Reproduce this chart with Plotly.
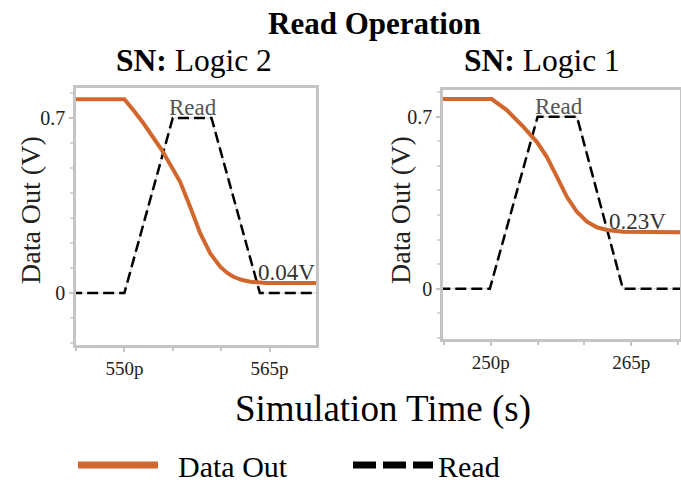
import plotly.graph_objects as go

# ---------------- data ----------------
# Left panel (SN: Logic 2)
t_out_l = [544.5, 550.0, 551.0, 551.97, 553.87, 555.0, 555.76, 556.79, 557.83, 558.86, 559.9, 560.6, 561.27, 562.1, 563.0, 564.7, 570.5]
v_out_l = [0.775, 0.775, 0.728, 0.679, 0.572, 0.500, 0.445, 0.345, 0.239, 0.159, 0.105, 0.081, 0.065, 0.053, 0.045, 0.040, 0.040]
t_read_l = [544.5, 550.0, 555.0, 559.0, 564.0, 570.5]
v_read_l = [0.0, 0.0, 0.7, 0.7, 0.0, 0.0]

# Right panel (SN: Logic 1)
t_out_r = [244.5, 250.1, 251.71, 253.48, 254.91, 255.98, 257.05, 258.12, 259.19, 260.26, 261.32, 262.39, 264.17, 270.5]
v_out_r = [0.772, 0.772, 0.727, 0.659, 0.598, 0.537, 0.456, 0.374, 0.313, 0.273, 0.250, 0.239, 0.232, 0.230]
t_read_r = [244.5, 249.9, 255.0, 259.2, 264.1, 270.5]
v_read_r = [0.0, 0.0, 0.7, 0.7, 0.0, 0.0]

x_ticks_l = [550, 565]
x_ticklabels_l = ["550p", "565p"]
x_ticks_r = [250, 265]
x_ticklabels_r = ["250p", "265p"]
y_ticks = [0, 0.7]
y_ticklabels = ["0", "0.7"]

final_l = "0.04V"
final_r = "0.23V"

# ---------------- style ----------------
W, H = 681, 485
ORANGE = "#D2672D"
FONT = "Liberation Serif"
BOX = "#c4c4c4"

def px_x(p):
    return p / W

def px_y(p):
    return 1 - p / H

fig = go.Figure()

def add_panel(tx, vo, trd, vr, xa, ya):
    fig.add_trace(go.Scatter(x=trd, y=vr, mode="lines", xaxis=xa, yaxis=ya,
                             line=dict(color="#d0d0d0", width=1), showlegend=False,
                             hoverinfo="skip"))
    fig.add_trace(go.Scatter(x=trd, y=vr, mode="lines", xaxis=xa, yaxis=ya,
                             line=dict(color="black", width=2.5, dash="11px,5px"),
                             showlegend=False, name="Read"))
    fig.add_trace(go.Scatter(x=tx, y=vo, mode="lines", xaxis=xa, yaxis=ya,
                             line=dict(color=ORANGE, width=4),
                             showlegend=False, name="Data Out"))

add_panel(t_out_l, v_out_l, t_read_l, v_read_l, "x", "y")
add_panel(t_out_r, v_out_r, t_read_r, v_read_r, "x2", "y2")

# legend-only entries
fig.add_trace(go.Scatter(x=[None], y=[None], mode="lines", name="\u00a0\u00a0Data Out",
                         line=dict(color=ORANGE, width=7)))
fig.add_trace(go.Scatter(x=[None], y=[None], mode="lines", name="Read",
                         line=dict(color="black", width=7, dash="23px,7px")))

axis_common = dict(showgrid=False, zeroline=False, showline=True, mirror=True,
                   linecolor=BOX, linewidth=2.5, ticks="outside", tickcolor=BOX,
                   ticklen=4, tickwidth=1.5)

xminor = dict(dtick=5, tick0=0, ticks="outside", ticklen=3, tickcolor=BOX)
yminor = dict(dtick=0.1, tick0=0, ticks="outside", ticklen=3, tickcolor="#d6d6d6")

fig.update_layout(
    width=W, height=H,
    margin=dict(l=0, r=0, t=0, b=0, autoexpand=False),
    paper_bgcolor="white", plot_bgcolor="white",
    font=dict(family=FONT, color="black"),
    xaxis=dict(domain=[px_x(76), px_x(316)], range=[545, 569.8], anchor="y",
               tickvals=x_ticks_l, ticktext=x_ticklabels_l, minor=xminor,
               tickfont=dict(family=FONT, size=19, color="#222"), **axis_common),
    yaxis=dict(domain=[px_y(345), px_y(88)], range=[-0.208, 0.82], anchor="x",
               tickvals=y_ticks, ticktext=y_ticklabels, minor=yminor,
               tickfont=dict(family=FONT, size=20, color="#222"), **axis_common),
    xaxis2=dict(domain=[px_x(443), px_x(680)], range=[244.9, 270.2], anchor="y2",
                tickvals=x_ticks_r, ticktext=x_ticklabels_r, minor=xminor,
                tickfont=dict(family=FONT, size=19, color="#222"), **axis_common),
    yaxis2=dict(domain=[px_y(339), px_y(90)], range=[-0.205, 0.809], anchor="x2",
                tickvals=y_ticks, ticktext=y_ticklabels, minor=yminor,
                tickfont=dict(family=FONT, size=20, color="#222"), **axis_common),
    showlegend=True,
    legend=dict(orientation="h", x=px_x(73), y=px_y(465), xanchor="left", yanchor="middle",
                font=dict(family=FONT, size=30, color="black"),
                itemwidth=80, entrywidth=180, entrywidthmode="pixels",
                bgcolor="rgba(0,0,0,0)"),
)

def pann(text, x, y, size, color="black", angle=0):
    return dict(text=text, x=px_x(x), y=px_y(y), xref="paper", yref="paper",
                xanchor="center", yanchor="middle", textangle=angle,
                showarrow=False, font=dict(family=FONT, size=size, color=color))

ann = [
    pann("<b>Read Operation</b>", 374, 23.5, 31),
    pann("<b>SN:</b> Logic 2", 194, 60.5, 31.5),
    pann("<b>SN:</b> Logic 1", 542, 60.5, 31.5),
    pann("Data Out (V)", 30, 210, 28, "#222", -90),
    pann("Data Out (V)", 400, 210, 28, "#222", -90),
    pann("Simulation Time (s)", 383, 408.5, 37),
]

def dann(text, x, y, xr, yr, color):
    return dict(text=text, x=x, y=y, xref=xr, yref=yr, xanchor="center", yanchor="bottom",
                showarrow=False, yshift=-4, font=dict(family=FONT, size=23, color=color))

ann += [
    dann("Read", 557.05, 0.7, "x", "y", "#555"),
    dann("Read", 257.3, 0.7, "x2", "y2", "#555"),
    dann(final_l, 566.7, v_out_l[-1], "x", "y", "#333"),
    dann(final_r, 265.7, v_out_r[-1], "x2", "y2", "#333"),
]
fig.update_layout(annotations=ann)

fig.write_html("out.html", config={"displayModeBar": False},
               post_script="document.body.style.margin='0px';")
